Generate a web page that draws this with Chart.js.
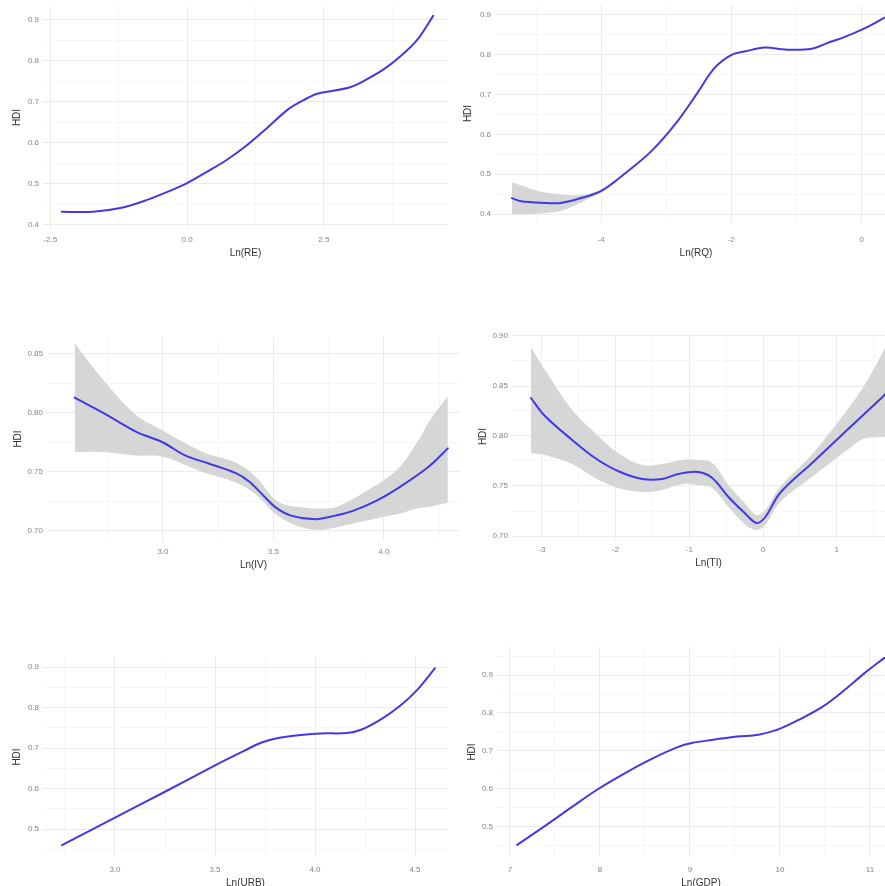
<!DOCTYPE html>
<html>
<head>
<meta charset="utf-8">
<script src="https://cdn.jsdelivr.net/npm/chart.js@4.4.1/dist/chart.umd.min.js"></script>
<style>
  html, body { margin: 0; padding: 0; width: 885px; height: 886px; overflow: hidden; background: #ffffff; }
  canvas { position: absolute; }
</style>
</head>
<body>
<canvas id="c1"></canvas>
<canvas id="c2"></canvas>
<canvas id="c3"></canvas>
<canvas id="c4"></canvas>
<canvas id="c5"></canvas>
<canvas id="c6"></canvas>
<script>
// ---- Ln(RE) vs HDI ----
const reX   = [-2.29, -1.72, -1.22, -0.73, -0.37, 0.0, 0.37, 0.73, 1.1, 1.46, 1.83, 2.07, 2.38, 2.67, 2.98, 3.16, 3.58, 3.89, 4.2, 4.5];
const reHdi = [0.432, 0.432, 0.441, 0.461, 0.48, 0.502, 0.53, 0.559, 0.595, 0.636, 0.68, 0.70, 0.72, 0.727, 0.736, 0.746, 0.778, 0.81, 0.85, 0.91];
const reXTicks = ['-2.5', '0.0', '2.5'];
const reYTicks = ['0.4', '0.5', '0.6', '0.7', '0.8', '0.9'];

// ---- Ln(RQ) vs HDI ----
const rqX   = [-5.37, -5.23, -4.88, -4.62, -4.37, -4.0, -3.65, -3.23, -2.83, -2.52, -2.26, -2.0, -1.8, -1.49, -1.18, -0.77, -0.52, -0.26, 0.05, 0.35];
const rqHdi = [0.44, 0.432, 0.428, 0.428, 0.437, 0.458, 0.50, 0.558, 0.633, 0.705, 0.767, 0.80, 0.808, 0.818, 0.813, 0.815, 0.83, 0.845, 0.867, 0.893];
const rqBandX     = [-5.37, -5.1, -4.88, -4.62, -4.37, -4.15, -4.0, -3.8];
const rqBandUpper = [0.48, 0.465, 0.455, 0.450, 0.447, 0.452, 0.462, 0.484];
const rqBandLower = [0.40, 0.40, 0.402, 0.408, 0.424, 0.442, 0.454, 0.478];
const rqXTicks = ['-4', '-2', '0'];
const rqYTicks = ['0.4', '0.5', '0.6', '0.7', '0.8', '0.9'];

// ---- Ln(IV) vs HDI ----
const ivX   = [2.6, 2.73, 2.88, 3.0, 3.1, 3.21, 3.33, 3.39, 3.45, 3.51, 3.58, 3.69, 3.78, 3.86, 3.97, 4.07, 4.2, 4.29];
const ivHdi = [0.813, 0.80, 0.784, 0.775, 0.764, 0.757, 0.749, 0.742, 0.731, 0.72, 0.713, 0.71, 0.713, 0.717, 0.726, 0.737, 0.754, 0.77];
const ivBandX     = [2.6, 2.73, 2.88, 3.0, 3.18, 3.33, 3.42, 3.52, 3.63, 3.72, 3.78, 3.85, 3.93, 4.0, 4.08, 4.15, 4.22, 4.29];
const ivBandUpper = [0.859, 0.828, 0.798, 0.785, 0.767, 0.758, 0.746, 0.725, 0.72, 0.719, 0.72, 0.726, 0.735, 0.743, 0.756, 0.775, 0.797, 0.814];
const ivBandLower = [0.767, 0.767, 0.764, 0.763, 0.750, 0.741, 0.731, 0.713, 0.703, 0.701, 0.703, 0.706, 0.709, 0.712, 0.715, 0.719, 0.721, 0.724];
const ivXTicks = ['3.0', '3.5', '4.0'];
const ivYTicks = ['0.70', '0.75', '0.80', '0.85'];

// ---- Ln(TI) vs HDI ----
const tiX   = [-3.15, -2.96, -2.59, -2.28, -1.97, -1.64, -1.37, -1.15, -0.88, -0.69, -0.47, -0.25, -0.09, 0.03, 0.23, 0.68, 1.14, 1.59, 1.66];
const tiHdi = [0.838, 0.820, 0.796, 0.778, 0.765, 0.757, 0.757, 0.762, 0.764, 0.758, 0.739, 0.723, 0.713, 0.719, 0.743, 0.774, 0.806, 0.837, 0.842];
const tiBandX     = [-3.15, -2.96, -2.59, -2.28, -1.97, -1.64, -1.37, -1.1, -0.88, -0.69, -0.47, -0.25, -0.09, 0.03, 0.23, 0.68, 1.14, 1.36, 1.59, 1.66];
const tiBandUpper = [0.889, 0.866, 0.826, 0.803, 0.783, 0.771, 0.772, 0.776, 0.776, 0.773, 0.751, 0.733, 0.721, 0.726, 0.749, 0.783, 0.826, 0.849, 0.879, 0.889];
const tiBandLower = [0.783, 0.781, 0.772, 0.758, 0.748, 0.744, 0.746, 0.752, 0.751, 0.748, 0.729, 0.712, 0.706, 0.711, 0.734, 0.760, 0.786, 0.797, 0.799, 0.799];
const tiXTicks = ['-3', '-2', '-1', '0', '1'];
const tiYTicks = ['0.70', '0.75', '0.80', '0.85', '0.90'];

// ---- Ln(URB) vs HDI ----
const urbX   = [2.735, 3.0, 3.25, 3.5, 3.65, 3.73, 3.81, 3.93, 4.03, 4.16, 4.23, 4.34, 4.43, 4.51, 4.6];
const urbHdi = [0.46, 0.528, 0.592, 0.657, 0.694, 0.713, 0.724, 0.732, 0.736, 0.737, 0.745, 0.774, 0.806, 0.843, 0.897];
const urbXTicks = ['3.0', '3.5', '4.0', '4.5'];
const urbYTicks = ['0.5', '0.6', '0.7', '0.8', '0.9'];

// ---- Ln(GDP) vs HDI ----
const gdpX   = [7.08, 7.39, 7.69, 7.98, 8.28, 8.58, 8.87, 9.02, 9.24, 9.53, 9.76, 9.98, 10.2, 10.47, 10.72, 10.94, 11.16];
const gdpHdi = [0.453, 0.503, 0.553, 0.600, 0.642, 0.680, 0.711, 0.721, 0.729, 0.738, 0.743, 0.757, 0.781, 0.816, 0.861, 0.905, 0.945];
const gdpXTicks = ['7', '8', '9', '10', '11'];
const gdpYTicks = ['0.5', '0.6', '0.7', '0.8', '0.9'];

// ---- styling ----
const FONT = '"Liberation Sans", Arial, sans-serif';
const LINE_COLOR = '#4338e6';
const BAND_COLOR = '#d6d6d6';
const GRID_MAJOR = '#ebebeb';
const GRID_MINOR = '#f4f4f4';
const TICK_COLOR = '#858585';
const TITLE_COLOR = '#333333';
const SMOOTH = 0.35;

const key = v => Number(v).toFixed(4);

// major breaks from the label strings, minor breaks halfway between (and one step beyond each end)
function axisTicks(labels, min, max) {
  const major = labels.map(Number);
  const step = major[1] - major[0];
  const minor = [];
  for (let v = major[0] - step / 2; v <= major[major.length - 1] + step / 2 + 1e-9; v += step) {
    if (v >= min && v <= max) minor.push(v);
  }
  const labelMap = new Map(labels.map(l => [key(Number(l)), l]));
  const minorSet = new Set(minor.map(key));
  const all = major.filter(v => v >= min && v <= max).concat(minor).sort((a, b) => a - b);
  return { all, labelMap, minorSet };
}

function toPoints(xs, ys) {
  return xs.map((x, i) => ({ x: x, y: ys[i] }));
}

function makeAxis(opts, ticksInfo, isX) {
  return {
    type: 'linear',
    min: opts.min,
    max: opts.max,
    bounds: 'data',
    border: { display: false },
    grid: {
      drawTicks: false,
      color: c => (c.tick && ticksInfo.minorSet.has(key(c.tick.value))) ? GRID_MINOR : GRID_MAJOR,
      lineWidth: c => (c.tick && ticksInfo.minorSet.has(key(c.tick.value))) ? 0.7 : 1
    },
    ticks: {
      autoSkip: false,
      maxRotation: 0,
      minRotation: 0,
      padding: opts.tickPad,
      color: TICK_COLOR,
      font: { family: FONT, size: 8 },
      callback: v => ticksInfo.labelMap.get(key(v)) || ''
    },
    title: {
      display: true,
      text: opts.title,
      color: TITLE_COLOR,
      font: { family: FONT, size: 10 },
      padding: isX ? { top: 0, bottom: opts.titlePad } : { top: opts.titlePad, bottom: 0 }
    },
    afterBuildTicks: s => { s.ticks = ticksInfo.all.map(v => ({ value: v })); },
    afterFit: s => {
      if (isX) { s.height = opts.size; s.paddingLeft = 0; s.paddingRight = 0; }
      else { s.width = opts.size; s.paddingTop = 0; s.paddingBottom = 0; }
    }
  };
}

function drawPanel(p) {
  const cv = document.getElementById(p.id);
  cv.width = p.width; cv.height = p.height;
  cv.style.left = p.left + 'px'; cv.style.top = p.top + 'px';
  cv.style.width = p.width + 'px'; cv.style.height = p.height + 'px';

  const xt = axisTicks(p.xTicks, p.x.min, p.x.max);
  const yt = axisTicks(p.yTicks, p.y.min, p.y.max);

  const datasets = [];
  if (p.band) {
    datasets.push({
      data: toPoints(p.band.x, p.band.upper),
      borderWidth: 0, pointRadius: 0, fill: false, order: 1, tension: SMOOTH
    });
    datasets.push({
      data: toPoints(p.band.x, p.band.lower),
      borderWidth: 0, pointRadius: 0, fill: '-1', order: 1, tension: SMOOTH,
      backgroundColor: BAND_COLOR
    });
  }
  datasets.push({
    data: toPoints(p.line.x, p.line.y),
    borderColor: LINE_COLOR, borderWidth: 2, pointRadius: 0, fill: false, order: 0,
    tension: SMOOTH, borderCapStyle: 'round', borderJoinStyle: 'round'
  });

  new Chart(cv, {
    type: 'line',
    data: { datasets },
    options: {
      responsive: false,
      animation: false,
      events: [],
      layout: { padding: { top: p.padTop, right: 0, bottom: 0, left: 0 } },
      plugins: { legend: { display: false }, tooltip: { enabled: false } },
      scales: {
        x: makeAxis({ min: p.x.min, max: p.x.max, tickPad: p.x.tickPad, title: p.x.title, titlePad: p.x.titlePad, size: p.x.size }, xt, true),
        y: makeAxis({ min: p.y.min, max: p.y.max, tickPad: 4, title: 'HDI', titlePad: p.y.titlePad, size: p.y.size }, yt, false)
      }
    }
  });
}

drawPanel({
  id: 'c1', left: 0, top: 0, width: 448, height: 262, padTop: 6,
  x: { min: -2.633, max: 4.771, title: 'Ln(RE)', tickPad: 6, titlePad: 3, size: 33 },
  y: { min: 0.390, max: 0.934, titlePad: 11, size: 43 },
  xTicks: reXTicks, yTicks: reYTicks,
  line: { x: reX, y: reHdi }
});

drawPanel({
  id: 'c2', left: 450, top: 0, width: 447, height: 262, padTop: 5,
  x: { min: -5.63, max: 0.54, title: 'Ln(RQ)', tickPad: 13, titlePad: 3, size: 40 },
  y: { min: 0.38, max: 0.925, titlePad: 12, size: 45 },
  xTicks: rqXTicks, yTicks: rqYTicks,
  line: { x: rqX, y: rqHdi },
  band: { x: rqBandX, upper: rqBandUpper, lower: rqBandLower }
});

drawPanel({
  id: 'c3', left: 0, top: 330, width: 460, height: 245, padTop: 7,
  x: { min: 2.475, max: 4.345, title: 'Ln(IV)', tickPad: 6, titlePad: 4, size: 34 },
  y: { min: 0.6915, max: 0.8644, titlePad: 12, size: 47 },
  xTicks: ivXTicks, yTicks: ivYTicks,
  line: { x: ivX, y: ivHdi },
  band: { x: ivBandX, upper: ivBandUpper, lower: ivBandLower }
});

drawPanel({
  id: 'c4', left: 450, top: 330, width: 455, height: 245, padTop: 3,
  x: { min: -3.407, max: 1.925, title: 'Ln(TI)', tickPad: 5, titlePad: 6, size: 35 },
  y: { min: 0.696, max: 0.903, titlePad: 27, size: 62 },
  xTicks: tiXTicks, yTicks: tiYTicks,
  line: { x: tiX, y: tiHdi },
  band: { x: tiBandX, upper: tiBandUpper, lower: tiBandLower }
});

drawPanel({
  id: 'c5', left: 0, top: 640, width: 448, height: 260, padTop: 17,
  x: { min: 2.64, max: 4.665, title: 'Ln(URB)', tickPad: 8, titlePad: 11, size: 43 },
  y: { min: 0.4309, max: 0.9247, titlePad: 11, size: 43 },
  xTicks: urbXTicks, yTicks: urbYTicks,
  line: { x: urbX, y: urbHdi }
});

drawPanel({
  id: 'c6', left: 450, top: 640, width: 455, height: 260, padTop: 7,
  x: { min: 6.856, max: 11.389, title: 'Ln(GDP)', tickPad: 8, titlePad: 11, size: 43 },
  y: { min: 0.421, max: 0.9737, titlePad: 16, size: 47 },
  xTicks: gdpXTicks, yTicks: gdpYTicks,
  line: { x: gdpX, y: gdpHdi }
});
</script>
</body>
</html>
